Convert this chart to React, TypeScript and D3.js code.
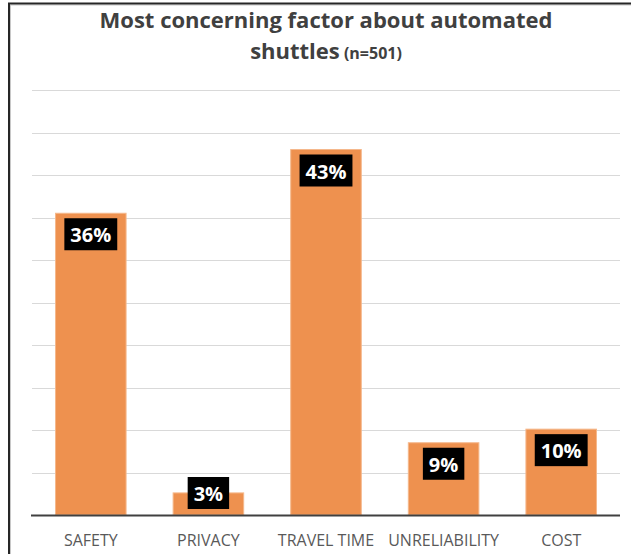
import React from "react";
import * as d3 from "d3";

const categories = ["SAFETY", "PRIVACY", "TRAVEL TIME", "UNRELIABILITY", "COST"];
const values = [35.5, 2.6, 43.0, 8.5, 10.1];
const yTicks = [5, 10, 15, 20, 25, 30, 35, 40, 45, 50];
const titleLine1 = "Most concerning factor about automated";
const titleLine2 = "shuttles";
const titleNote = "(n=501)";

const W = 631;
const H = 554;
const LEFT = 32;
const RIGHT = 620;
const BASE = 515;
const TOP = 90;

function measure(text: string, font: string): number {
  const c = document.createElement("canvas");
  const ctx = c.getContext("2d");
  if (!ctx) return text.length * 11;
  ctx.font = font;
  return ctx.measureText(text).width;
}

export default function App() {
  const x = d3
    .scaleBand<string>()
    .domain(categories)
    .range([LEFT, RIGHT])
    .paddingInner(0.4)
    .paddingOuter(0.2);
  const y = d3.scaleLinear().domain([0, 50]).range([BASE, TOP]);
  const labelFont = "bold 20px 'Open Sans'";
  const boxH = 32;

  return (
    <svg
      width={W}
      height={H}
      style={{ position: "absolute", left: 0, top: 0, background: "#fff" }}
      fontFamily="'Open Sans', sans-serif"
    >
      <rect x={0} y={0} width={W} height={H} fill="#fff" />
      {/* frame */}
      <polyline points={`10.5,${H} 10.5,5 ${W},5`} fill="none" stroke="#c8c8c8" strokeWidth={1} />
      <polyline points={`9,${H} 9,3.5 ${W},3.5`} fill="none" stroke="#262626" strokeWidth={2} />

      {/* title */}
      <text x={326} y={27.5} textAnchor="middle" fontSize={22} fontWeight={700} fill="#404040">
        {titleLine1}
      </text>
      <text x={326} y={58.5} textAnchor="middle" fill="#404040" fontWeight={700}>
        <tspan fontSize={22}>{titleLine2}</tspan>
        <tspan fontSize={16}>{" " + titleNote}</tspan>
      </text>

      {/* gridlines */}
      {yTicks.map((t) => (
        <line
          key={t}
          x1={LEFT}
          x2={RIGHT}
          y1={Math.round(y(t)) + 0.5}
          y2={Math.round(y(t)) + 0.5}
          stroke="#d9d9d9"
          strokeWidth={1}
        />
      ))}

      {/* bars */}
      {categories.map((c, i) => {
        const bx = x(c) as number;
        const top = y(values[i]);
        return (
          <rect
            key={c}
            x={bx}
            y={top}
            width={x.bandwidth()}
            height={BASE - top}
            fill="#EE914F"
            stroke="#F5B88C"
            strokeWidth={1}
          />
        );
      })}

      {/* baseline */}
      <line x1={LEFT - 1} x2={RIGHT} y1={BASE + 0.5} y2={BASE + 0.5} stroke="#404040" strokeWidth={2} />

      {/* data labels */}
      {categories.map((c, i) => {
        const cx = (x(c) as number) + x.bandwidth() / 2;
        const label = `${Math.round(values[i])}%`;
        const tw = measure(label, labelFont);
        const bw = tw + 12;
        const top = Math.min(y(values[i]) + 5, BASE - 6 - boxH);
        return (
          <g key={c}>
            <rect x={cx - bw / 2} y={top} width={bw} height={boxH} fill="#000" />
            <text
              x={cx}
              y={top + 24}
              textAnchor="middle"
              fontSize={20}
              fontWeight={700}
              fill="#fff"
            >
              {label}
            </text>
          </g>
        );
      })}

      {/* category labels */}
      {categories.map((c) => (
        <text
          key={c}
          x={(x(c) as number) + x.bandwidth() / 2}
          y={546}
          textAnchor="middle"
          fontSize={16}
          fill="#595959"
        >
          {c}
        </text>
      ))}
    </svg>
  );
}
